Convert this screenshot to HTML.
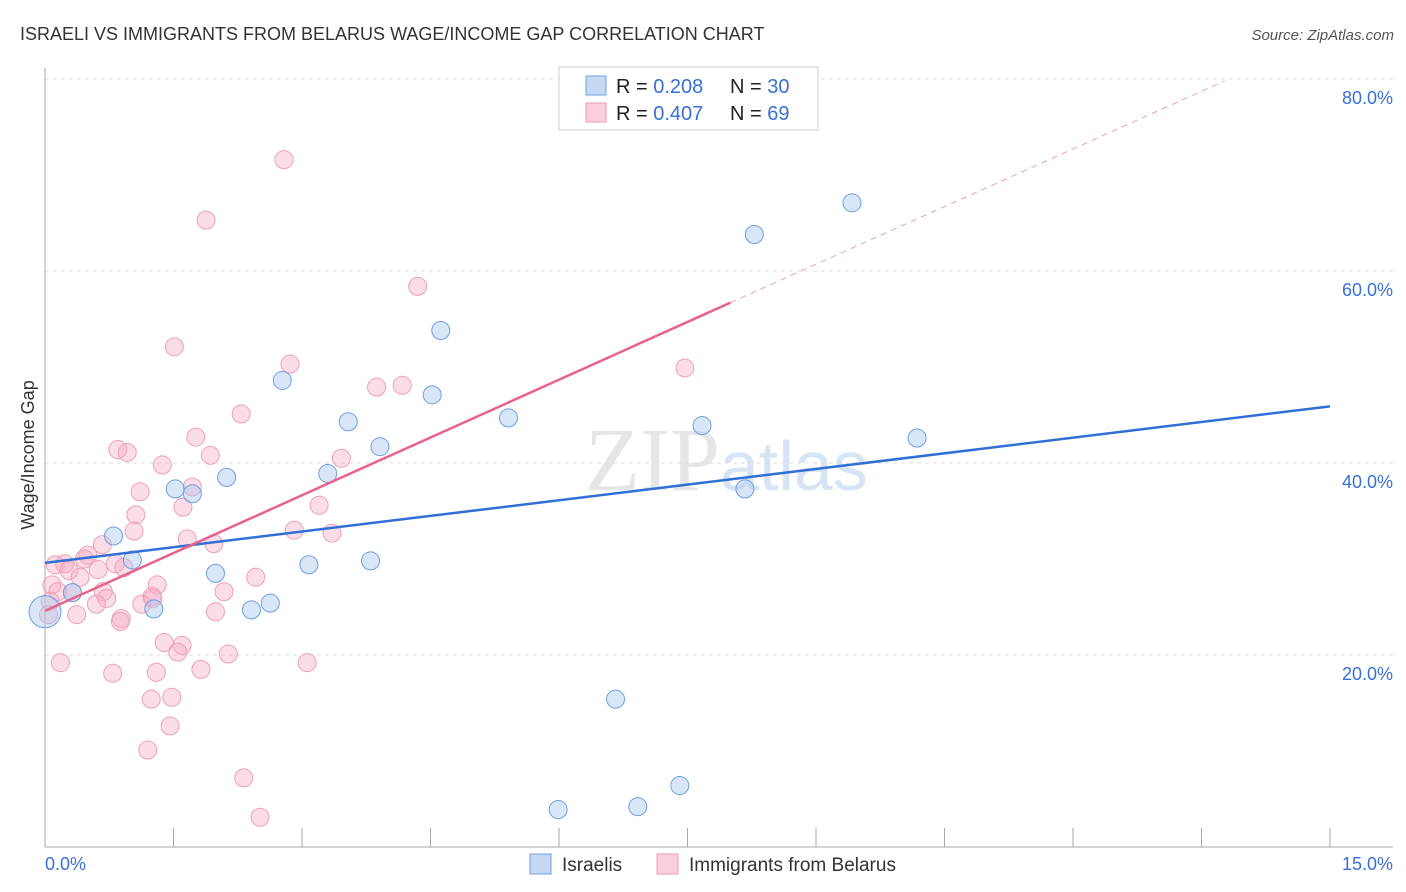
<!DOCTYPE html>
<html><head><meta charset="utf-8"><style>
body{margin:0;background:#fff;font-family:"Liberation Sans",sans-serif;}
svg{display:block}
</style></head><body>
<svg id="c" width="1406" height="892">
<text x="20" y="40" font-size="18" fill="#333">ISRAELI VS IMMIGRANTS FROM BELARUS WAGE/INCOME GAP CORRELATION CHART</text>
<text x="1394" y="40" font-size="15" fill="#555" font-style="italic" text-anchor="end">Source: ZipAtlas.com</text>
<text x="720" y="490" font-size="90" fill="#e6e6e6" font-family="Liberation Serif" text-anchor="end">ZIP</text>
<text x="720" y="490" font-size="70" fill="#d6e4f3">atlas</text>
<text transform="translate(34,455) rotate(-90)" font-size="18" fill="#333" text-anchor="middle">Wage/Income Gap</text>
<g id="grid"></g><g id="pts"></g><g id="lines"></g>
<g>
<rect x="559" y="67" width="259" height="63" fill="#fff" stroke="#ccc"/>
<rect x="586" y="76" width="20" height="19" fill="#c5d9f5" stroke="#6f9ee0"/>
<rect x="586" y="103" width="20" height="19" fill="#fbd0dc" stroke="#ee9ab4"/>
<text x="616" y="93" font-size="20" fill="#222">R = <tspan fill="#3a6fd8">0.208</tspan></text>
<text x="730" y="93" font-size="20" fill="#222">N = <tspan fill="#3a6fd8">30</tspan></text>
<text x="616" y="120" font-size="20" fill="#222">R = <tspan fill="#3a6fd8">0.407</tspan></text>
<text x="730" y="120" font-size="20" fill="#222">N = <tspan fill="#3a6fd8">69</tspan></text>
</g>
<g>
<rect x="530" y="854" width="21" height="20" fill="#c5d9f5" stroke="#6f9ee0"/>
<text x="562" y="871" font-size="19" fill="#333">Israelis</text>
<rect x="657" y="854" width="21" height="20" fill="#fbd0dc" stroke="#ee9ab4"/>
<text x="689" y="871" font-size="19" fill="#333">Immigrants from Belarus</text>
</g>
<text x="45" y="870" font-size="18" fill="#3a6fd8">0.0%</text>
<text x="1393" y="870" font-size="18" fill="#3a6fd8" text-anchor="end">15.0%</text>
</svg>
<script>
const yTicks=[20,40,60,80];
const xTicks=[0,1.5,3,4.5,6,7.5,9,10.5,12,13.5,15];
const blueX=[0,0.32,0.8,1.02,1.27,1.52,1.72,1.99,2.12,2.41,2.63,2.77,3.08,3.3,3.54,3.8,3.91,4.52,4.62,5.41,5.99,6.66,6.92,7.41,7.67,8.17,8.28,9.42,10.18];
const blueY=[24.5,26.5,32.4,29.9,24.8,37.3,36.8,28.5,38.5,24.7,25.4,48.6,29.4,38.9,44.3,29.8,41.7,47.1,53.8,44.7,3.9,15.4,4.2,6.4,43.9,37.3,63.8,67.1,42.6];
const pinkX=[2.79,1.88,4.35,1.51,2.86,7.47,3.87,4.17,2.29,1.76,0.85,0.96,1.93,1.37,1.11,1.72,1.61,1.06,1.04,3.46,3.2,2.91,3.35,1.66,1.97,0.67,0.5,0.46,0.82,0.92,0.12,0.23,0.28,0.62,0.41,0.08,0.15,0.32,0.68,0.72,1.31,2.09,2.46,1.25,1.13,0.6,0.06,0.04,0.37,0.89,1.26,1.99,1.39,1.6,1.55,2.14,3.06,0.18,0.79,1.3,1.82,1.48,1.24,1.46,1.2,2.32,2.51,0.88];
const pinkY=[71.6,65.3,58.4,52.1,50.3,49.9,47.9,48.1,45.1,42.7,41.4,41.1,40.8,39.8,37,37.5,35.4,34.6,32.9,40.5,35.6,33,32.7,32.1,31.6,31.5,30.4,30,29.5,29.1,29.4,29.5,28.8,28.9,28.1,27.3,26.6,26.5,26.6,25.9,27.3,26.6,28.1,26.1,25.3,25.3,25.6,24.2,24.2,23.8,25.9,24.5,21.3,21,20.3,20.1,19.2,19.2,18.1,18.2,18.5,15.6,15.4,12.6,10.1,7.2,3.1,23.5];
const NS='http://www.w3.org/2000/svg';
const X0=45,X1=1330,Y0=847,PY=9.6;
const sx=v=>X0+(X1-X0)*v/15, sy=v=>Y0-v*PY;
function mk(p,t,a){const e=document.createElementNS(NS,t);for(const k in a)e.setAttribute(k,a[k]);p.appendChild(e);return e;}
const g=document.getElementById('grid');
yTicks.forEach(t=>{const l=mk(g,'line',{x1:X0,x2:1393,y1:sy(t),y2:sy(t),stroke:'#ddd','stroke-dasharray':'4,4'});


const tx=mk(g,'text',{x:1393,y:sy(t)+25,'font-size':18,fill:'#3a6fd8','text-anchor':'end'});tx.textContent=t.toFixed(1)+'%';

});
mk(g,'line',{x1:45,x2:45,y1:68,y2:847,stroke:'#aaa'});
mk(g,'line',{x1:45,x2:1393,y1:847,y2:847,stroke:'#aaa'});
xTicks.forEach(t=>{const l=mk(g,'line',{x1:sx(t),x2:sx(t),y1:828,y2:847,stroke:'#aaa'});

});
const P=document.getElementById('pts');
pinkX.forEach((x,i)=>{const c=mk(P,'circle',{cx:sx(x),cy:sy(pinkY[i]),r:9,fill:'rgba(246,170,195,0.4)',stroke:'#eea0b8','stroke-width':1});

});
blueX.forEach((x,i)=>{const c=mk(P,'circle',{cx:sx(x),cy:sy(blueY[i]),r:i==0?16:9,fill:'rgba(170,200,240,0.45)',stroke:'#6f9ee0','stroke-width':1});

});
const L=document.getElementById('lines');
let l=mk(L,'line',{x1:sx(0),y1:sy(29.6),x2:sx(15),y2:sy(45.9),stroke:'#2f6fd6','stroke-width':2.5});


l=mk(L,'line',{x1:sx(0),y1:sy(24.6),x2:sx(8),y2:sy(56.7),stroke:'#e8628e','stroke-width':2.5});


l=mk(L,'line',{x1:sx(8),y1:sy(56.7),x2:sx(13.77),y2:sy(79.8),stroke:'#e8a0b8','stroke-width':1,'stroke-dasharray':'6,5'});


</script>
</body></html>
